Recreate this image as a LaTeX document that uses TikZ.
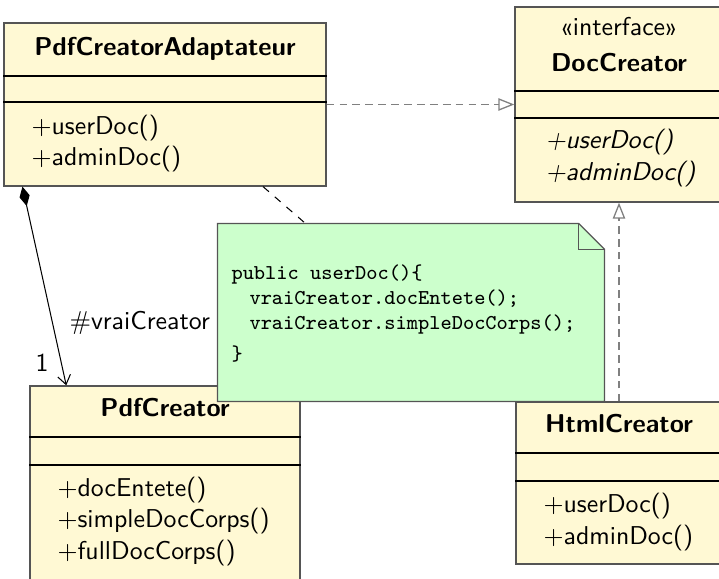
\documentclass[tikz,border=0pt]{standalone}
\usepackage{fontspec}
\usetikzlibrary{arrows.meta,fit}
\definecolor{classfill}{RGB}{255,249,212}
\definecolor{notefill}{RGB}{204,255,204}
\definecolor{boxline}{RGB}{85,85,85}
\tikzset{
  classbox/.style={draw=boxline, fill=classfill, inner sep=0pt, line width=0.5pt},
  compline/.style={line width=0.45pt},
  cname/.style={anchor=base, inner sep=0pt, font=\sffamily\bfseries},
  op/.style={anchor=base west, inner sep=0pt, font=\sffamily},
  absop/.style={op, font=\sffamily\itshape},
  codeline/.style={anchor=base west, inner sep=0pt, font=\fontsize{8.2}{9.9}\selectfont\ttfamily},
  realize/.style={draw=gray, line width=0.5pt, dash pattern=on 3pt off 2pt,
    -{Triangle[open,length=6.2pt,width=4.8pt]}},
  compose/.style={line width=0.4pt,
    {Diamond[length=7.7pt,width=4pt]}-{Straight Barb[length=3.5pt,width=5pt]}},
  noteline/.style={line width=0.4pt, dash pattern=on 3pt off 3pt}
}
\begin{document}
\begin{tikzpicture}[x=0.3875pt,y=-0.3875pt]
\useasboundingbox (0,0) rectangle (719,579);
\clip (0,0) rectangle (719,579);

% classes
\node[classbox, fit={(4,23) (326,186)}] (adapt) {};
\draw[compline] (adapt.west |- 0,76) -- (adapt.east |- 0,76);
\draw[compline] (adapt.west |- 0,102) -- (adapt.east |- 0,102);
\node[cname] (adaptName) at (165,56) {PdfCreatorAdaptateur};
\node[op] (adaptOpA) at (31,135) {+userDoc()};
\node[op] (adaptOpB) at (31,166) {+adminDoc()};

\node[classbox, fit={(515,7) (723,202)}] (doc) {};
\draw[compline] (doc.west |- 0,91) -- (doc.east |- 0,91);
\draw[compline] (doc.west |- 0,118) -- (doc.east |- 0,118);
\node[cname, font=\sffamily] (docStereo) at (619,36) {«interface»};
\node[cname] (docName) at (619,72) {DocCreator};
\node[absop] (docOpA) at (545,149) {+userDoc()};
\node[absop] (docOpB) at (545,181) {+adminDoc()};

\node[classbox, fit={(30,386) (300,600)}] (pdf) {};
\draw[compline] (pdf.west |- 0,437) -- (pdf.east |- 0,437);
\draw[compline] (pdf.west |- 0,465) -- (pdf.east |- 0,465);
\node[cname] (pdfName) at (165,417) {PdfCreator};
\node[op] (pdfOpA) at (57,497) {+docEntete()};
\node[op] (pdfOpB) at (57,528) {+simpleDocCorps()};
\node[op] (pdfOpC) at (57,560) {+fullDocCorps()};

\node[classbox, fit={(516,402) (722,564)}] (html) {};
\draw[compline] (html.west |- 0,453) -- (html.east |- 0,453);
\draw[compline] (html.west |- 0,481) -- (html.east |- 0,481);
\node[cname] (htmlName) at (619,433) {HtmlCreator};
\node[op] (htmlOpA) at (543,513) {+userDoc()};
\node[op] (htmlOpB) at (543,545) {+adminDoc()};

% note
\node[fit={(218,224) (604,401)}, inner sep=0pt] (note) {};
\filldraw[draw=boxline, fill=notefill, line width=0.5pt] (note.north west)
  -- ([xshift=-10pt]note.north east) -- ([yshift=-10pt]note.north east)
  -- (note.south east) -- (note.south west) -- cycle;
\draw[boxline, line width=0.5pt] ([xshift=-10pt]note.north east)
  |- ([yshift=-10pt]note.north east);
\node[codeline] (codeA) at (231,280) {public userDoc()\{};
\node[codeline] (codeB) at (249,305) {vraiCreator.docEntete();};
\node[codeline] (codeC) at (249,330) {vraiCreator.simpleDocCorps();};
\node[codeline] (codeD) at (231,361) {\}};

% relations
\draw[realize] (adapt.east) -- (adapt.east -| doc.west);
\draw[realize] (html.north) -- (html.north |- doc.south);
\draw[compose] ([xshift=7.4pt]adapt.south west) -- ([xshift=14.3pt]pdf.north west);
\node[anchor=base west, inner sep=0pt, font=\sffamily] (roleName) at (69,330) {\#vraiCreator};
\node[anchor=base west, inner sep=0pt, font=\sffamily] (mult) at (35,372) {1};
\draw[noteline] ([xshift=38pt]adapt.south) -- ([xshift=34.1pt]note.north west);
\end{tikzpicture}
\end{document}
